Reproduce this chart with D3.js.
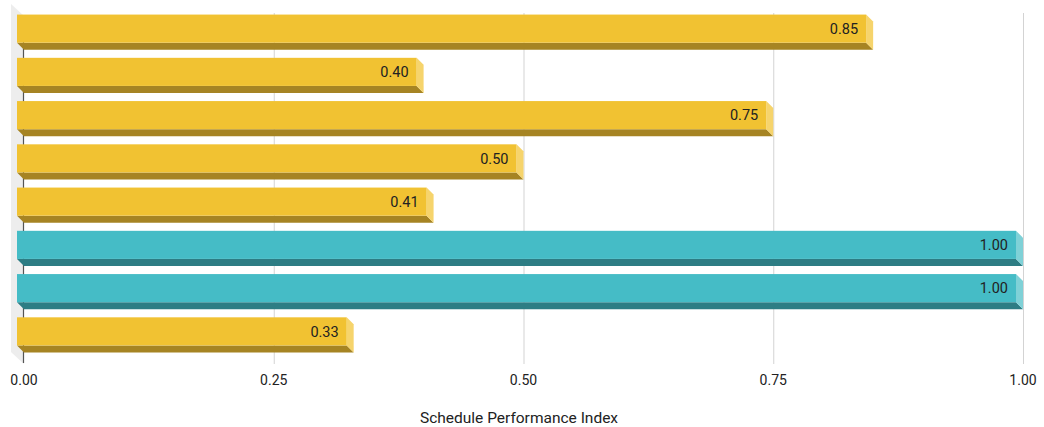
<!DOCTYPE html>
<html>
<head>
<meta charset="utf-8">
<script src="https://cdn.jsdelivr.net/npm/d3@7"></script>
<style>
  html, body { margin: 0; padding: 0; background: #fff; }
  svg { display: block; font-family: Roboto, "Noto Sans", sans-serif; }
</style>
</head>
<body>
<svg id="chart" width="1044" height="427"></svg>
<script>
// Schedule Performance Index per project (top to bottom)
const projects = ["Project A", "Project B", "Project C", "Project D", "Project E", "Project F", "Project G", "Project H"];
const spiValues = [0.85, 0.40, 0.75, 0.50, 0.41, 1.00, 1.00, 0.33];
const tickValues = [0, 0.25, 0.5, 0.75, 1];
const tickLabels = ["0.00", "0.25", "0.50", "0.75", "1.00"];

const svg = d3.select("#chart");
const depth = 7;          // 3D extrusion offset (px)
const x = d3.scaleLinear().domain([0, 1]).range([24, 1023]);
const y = d3.scaleBand().domain(projects).range([14, 360]).paddingInner(0.35).paddingOuter(0.175);

const palette = {
  behind: { front: "#F1C232", bottom: "#A68423", side: "#F6D46C" },
  onTrack: { front: "#45BCC6", bottom: "#2D7D84", side: "#7FD1D7" }
};

// vertical gridlines on the back plane
svg.append("g").selectAll("line").data(tickValues.slice(1)).join("line")
  .attr("x1", d => x(d) + 0.5).attr("x2", d => x(d) + 0.5)
  .attr("y1", 13).attr("y2", 364)
  .attr("stroke", "#d3d3d3").attr("stroke-width", 1);

// left wall of the 3D frame
svg.append("path")
  .attr("d", `M11,4 L${x(0)},16 L${x(0)},364 L11,352 Z`)
  .attr("fill", "#ededed");

// value axis baseline
svg.append("line")
  .attr("x1", x(0) - 0.5).attr("x2", x(0) - 0.5)
  .attr("y1", 16).attr("y2", 363)
  .attr("stroke", "#555").attr("stroke-width", 1.2);

// bars
const bars = svg.append("g").selectAll("g").data(projects).join("g");
bars.each(function(p, i) {
  const v = spiValues[i];
  const c = v >= 1 ? palette.onTrack : palette.behind;
  const g = d3.select(this);
  const bx0 = x(0), bx1 = x(v);
  const ft = y(p) - depth, fb = y(p) + y.bandwidth() - depth;
  // bottom face
  g.append("path")
    .attr("d", `M${bx0 - depth},${fb} L${bx1 - depth},${fb} L${bx1},${fb + depth} L${bx0},${fb + depth} Z`)
    .attr("fill", c.bottom);
  // end face
  g.append("path")
    .attr("d", `M${bx1 - depth},${ft} L${bx1},${ft + depth} L${bx1},${fb + depth} L${bx1 - depth},${fb} Z`)
    .attr("fill", c.side);
  // front face
  g.append("rect")
    .attr("x", bx0 - depth).attr("y", ft)
    .attr("width", bx1 - bx0).attr("height", fb - ft)
    .attr("fill", c.front);
  // value label
  g.append("text")
    .attr("x", bx1 - depth - 8).attr("y", (ft + fb) / 2)
    .attr("dy", "0.36em").attr("text-anchor", "end")
    .attr("font-size", 14.5).attr("fill", "#222")
    .text(d3.format(".2f")(v));
});

// tick labels
svg.append("g").selectAll("text").data(tickValues).join("text")
  .attr("x", d => x(d)).attr("y", 380)
  .attr("dy", "0.36em").attr("text-anchor", "middle")
  .attr("font-size", 14).attr("fill", "#222")
  .text((d, i) => tickLabels[i]);

// axis title
svg.append("text")
  .attr("x", 519).attr("y", 417)
  .attr("dy", "0.36em").attr("text-anchor", "middle")
  .attr("font-size", 15.5).attr("fill", "#222")
  .text("Schedule Performance Index");
</script>
</body>
</html>
